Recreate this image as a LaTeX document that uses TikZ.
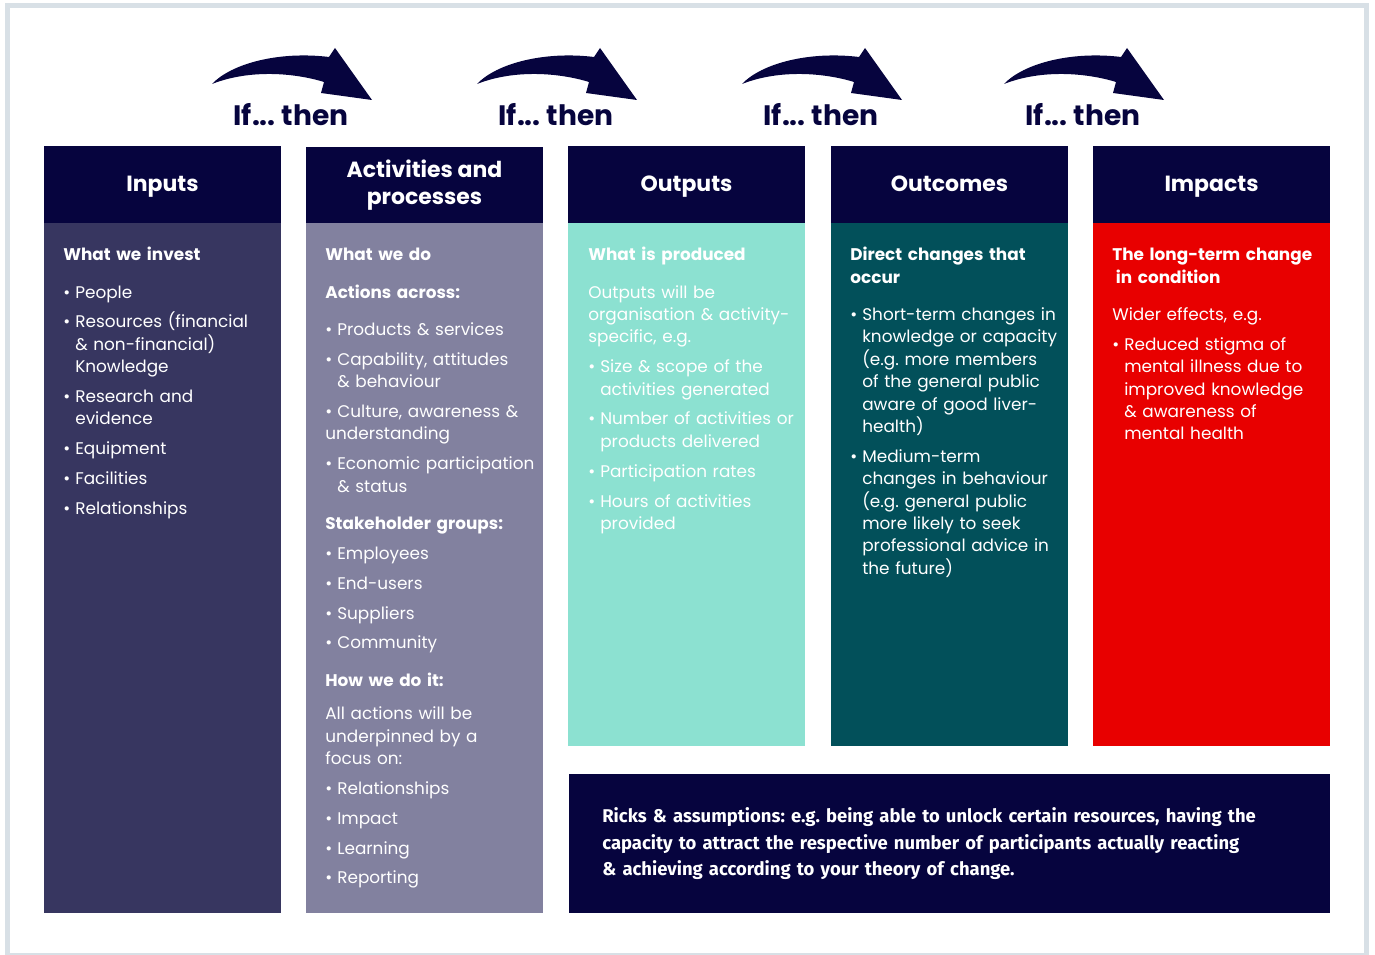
\documentclass[tikz,border=0pt]{standalone}
\usepackage{fontspec}
\setmainfont{Poppins}
\newfontfamily\riskfont{Fira Sans}
\usepackage{tikz}
\usetikzlibrary{positioning}

\definecolor{navy}{HTML}{06043E}
\definecolor{framegrey}{HTML}{D8E0E6}
\definecolor{inputbg}{HTML}{373660}
\definecolor{actbg}{HTML}{82819F}
\definecolor{outbg}{HTML}{8CE1D1}
\definecolor{outcbg}{HTML}{02505A}
\definecolor{impbg}{HTML}{E80000}

% bullet items, with and without hanging indent
\newcommand{\itm}{\par\hangindent=6.8pt\hangafter=1\makebox[6.8pt][l]{\textbullet}}
\newcommand{\itmflat}{\par\makebox[6.8pt][l]{\textbullet}}
% bold sub heading, optional space after it
\newcommand{\hd}[2][4.25pt]{\par\addvspace{4.25pt}{\bfseries #2}\par\addvspace{#1}}
% strut for one line headers
\newcommand{\hstrut}{\rule[-4.6pt]{0pt}{17.6pt}}
\frenchspacing

\begin{document}
\begin{tikzpicture}[x=0.02cm, y=-0.02cm,
	hdr/.style={fill=navy, text=white, minimum width=4.74cm, minimum height=1.54cm, inner sep=0pt, outer sep=0pt, align=center, font=\bfseries\fontsize{12.5}{15.3}\selectfont},
	colbody/.style={minimum width=4.74cm, inner sep=0pt, outer sep=0pt},
	coltext/.style={anchor=north west, inner sep=0pt, text width=5cm, text=white, font=\fontsize{9.6}{12.75}\selectfont, execute at begin node={\raggedright\setlength{\parskip}{4.25pt}}},
	ifthen/.style={text=navy, inner sep=0pt, font=\bfseries\fontsize{16}{19}\selectfont},
	ifarrow/.pic={\fill[navy] (-79,84) .. controls (-59,63) and (-11,51) .. (38,57) -- (44,48) -- (81,100) -- (30,93) -- (33,82) .. controls (4,73) and (-41,69) .. (-79,84) -- cycle;}]
	\useasboundingbox (0,0) rectangle (1375,955);
	\draw [framegrey, line width=0.1cm] (7.5,5.5) rectangle (1366,955);

	% if ... then arrows
	\pic at (291,0) {ifarrow};
	\pic at (556,0) {ifarrow};
	\pic at (821,0) {ifarrow};
	\pic at (1083,0) {ifarrow};
	\node [ifthen] (if1) at (291,115) {If... then};
	\node [ifthen] (if2) at (556,115) {If... then};
	\node [ifthen] (if3) at (821,115) {If... then};
	\node [ifthen] (if4) at (1083,115) {If... then};

	% column headers
	\node [hdr] (inputsH) at (162.5,184.5) {Inputs\hstrut};
	\node [hdr] (actH) at (424.5,185.5) {Activities and\\processes};
	\node [hdr] (outH) at (686.5,184.5) {Outputs\hstrut};
	\node [hdr] (outcH) at (949.5,184.5) {Outcomes\hstrut};
	\node [hdr] (impH) at (1211.5,184.5) {Impacts\hstrut};

	% column bodies
	\node [colbody, fill=inputbg, minimum height=13.8cm, below=0pt of inputsH] (inputsB) {};
	\node [colbody, fill=actbg, minimum height=13.8cm, anchor=north] (actB) at (424.5,223) {};
	\node [colbody, fill=outbg, minimum height=10.46cm, below=0pt of outH] (outB) {};
	\node [colbody, fill=outcbg, minimum height=10.46cm, below=0pt of outcH] (outcB) {};
	\node [colbody, fill=impbg, minimum height=10.46cm, below=0pt of impH] (impB) {};

	\node [coltext] (inputsT) at (63,223) {\hd{What we invest}
		\itm People
		\itm Resources (financial\newline\& non-financial)\newline Knowledge
		\itm Research and\newline evidence
		\itm Equipment
		\itm Facilities
		\itm Relationships\par};
	\node [coltext] (actT) at (325,223) {\hd{What we do}
		\hd{Actions across:}
		\itm Products \& services
		\itm Capability, attitudes\newline\& behaviour
		\itmflat Culture, awareness \&\newline understanding
		\itm Economic participation\newline\& status
		\hd[0pt]{Stakeholder groups:}
		\itm Employees
		\itm End-users
		\itm Suppliers
		\itm Community
		\hd[2pt]{How we do it:}
		All actions will be\newline underpinned by a\newline focus on:
		\itm Relationships
		\itm Impact
		\itm Learning
		\itm Reporting\par};
	\node [coltext] (outT) at (588,223) {\hd{What is produced}
		Outputs will be\newline organisation \& activity-\newline specific, e.g.
		\itm Size \& scope of the\newline activities generated
		\itm Number of activities or\newline products delivered
		\itm Participation rates
		\itm Hours of activities\newline provided\par};
	\node [coltext] (outcT) at (850,223) {\hd{Direct changes that\newline occur}
		\itm Short-term changes in\newline knowledge or capacity\newline(e.g. more members\newline of the general public\newline aware of good liver-\newline health)
		\itm Medium-term\newline changes in behaviour\newline(e.g. general public\newline more likely to seek\newline professional advice in\newline the future)\par};
	\node [coltext] (impT) at (1112,223) {\hd{The long-term change\newline\hspace*{2pt}in condition}
		Wider effects, e.g.
		\itm Reduced stigma of\newline mental illness due to\newline improved knowledge\newline\& awareness of\newline mental health\par};

	% risks and assumptions
	\node [fill=navy, text=white, anchor=north west, minimum width=15.22cm, minimum height=2.78cm, inner xsep=0.66cm, inner ysep=0pt, text width=13.9cm, align=left, font=\riskfont\bfseries\fontsize{10.5}{15}\selectfont] (risks) at (569,774) {Ricks \& assumptions: e.g. being able to unlock certain resources, having the\\capacity to attract the respective number of participants actually reacting\\\& achieving according to your theory of change.};
\end{tikzpicture}
\end{document}
